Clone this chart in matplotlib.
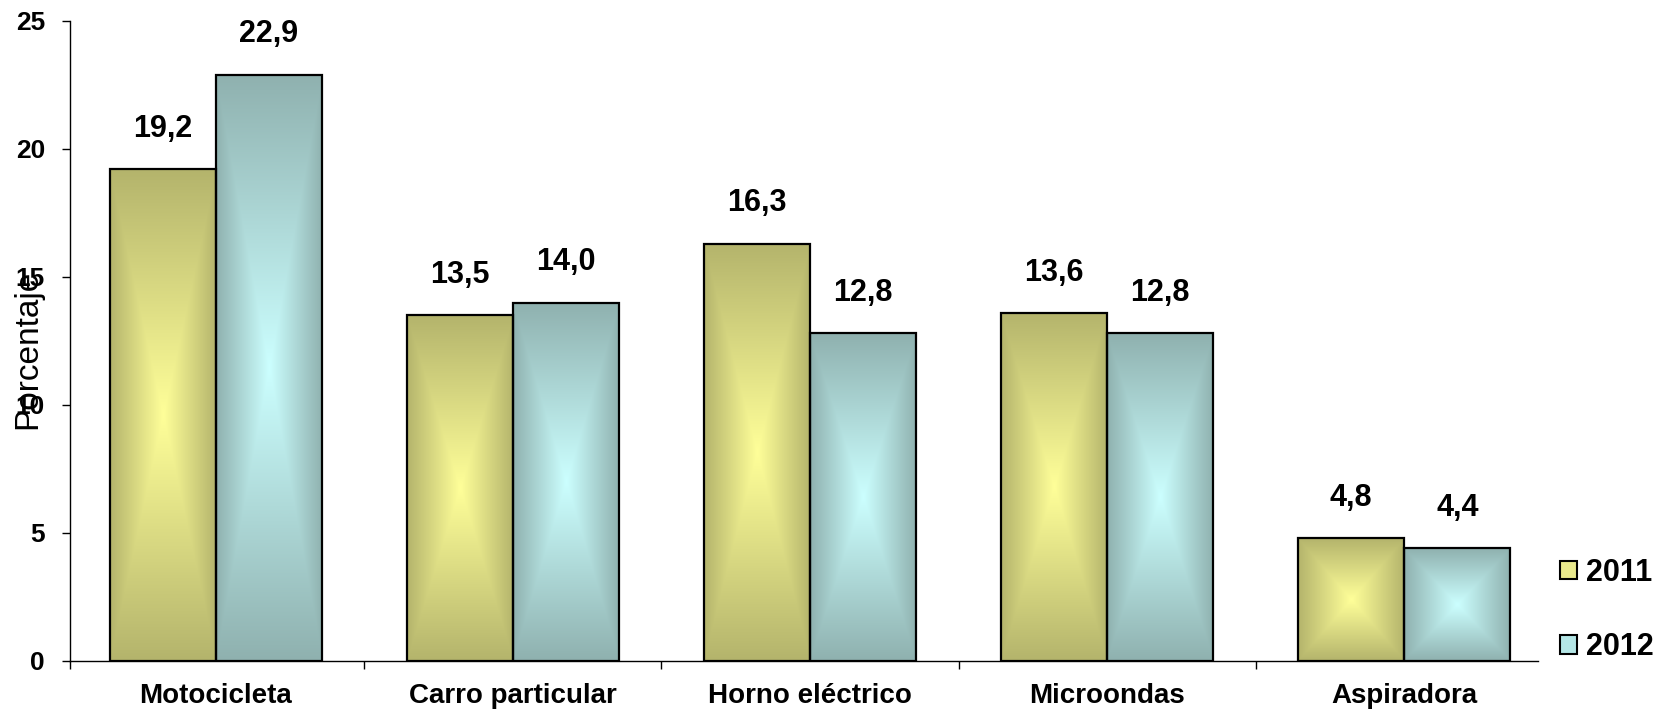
import numpy as np
import matplotlib
matplotlib.use('Agg')
import matplotlib.pyplot as plt
from matplotlib.colors import to_rgb
from matplotlib.patches import Patch

categories = ['Motocicleta', 'Carro particular', 'Horno eléctrico', 'Microondas', 'Aspiradora']
values_2011 = [19.2, 13.5, 16.3, 13.6, 4.8]
values_2012 = [22.9, 14.0, 12.8, 12.8, 4.4]
series_names = ['2011', '2012']
y_ticks = [0, 5, 10, 15, 20, 25]

# (edge colour, centre colour) of the "from centre" gradient fill
yellow = ('#B4B46C', '#FFFF99')
teal = ('#8FB1AF', '#CCFFFF')

plt.rcParams['font.family'] = ['Liberation Sans', 'DejaVu Sans']


def gradient_image(edge, centre, n=200):
    u = np.linspace(-1, 1, n)
    uu, vv = np.meshgrid(u, u)
    t = np.maximum(np.abs(uu), np.abs(vv))[..., None]
    e = np.array(to_rgb(edge))
    c = np.array(to_rgb(centre))
    return e * t + c * (1 - t)


def fill_bars(ax, bars, colors):
    img = gradient_image(*colors)
    for bar in bars:
        x0, y0 = bar.get_x(), bar.get_y()
        x1, y1 = x0 + bar.get_width(), y0 + bar.get_height()
        im = ax.imshow(img, extent=(x0, x1, y0, y1), aspect='auto',
                       interpolation='bilinear', zorder=2)
        im.set_clip_path(bar)


def label_bars(ax, bars, values):
    for bar, v in zip(bars, values):
        ax.annotate('{:.1f}'.format(v).replace('.', ','),
                    (bar.get_x() + bar.get_width() / 2, bar.get_height()),
                    xytext=(0, 29), textcoords='offset points',
                    ha='center', va='center', fontsize=22, fontweight='bold')


def main():
    fig = plt.figure(figsize=(16.63, 7.12), dpi=100)
    ax = fig.add_axes([70 / 1663, 51 / 712, 1468 / 1663, 640 / 712])

    x = np.arange(len(categories))
    width = 0.357
    bars1 = ax.bar(x - width / 2, values_2011, width, facecolor='none',
                   edgecolor='black', linewidth=1.6, zorder=3)
    bars2 = ax.bar(x + width / 2, values_2012, width, facecolor='none',
                   edgecolor='black', linewidth=1.6, zorder=3)
    fill_bars(ax, bars1, yellow)
    fill_bars(ax, bars2, teal)
    label_bars(ax, bars1, values_2011)
    label_bars(ax, bars2, values_2012)

    ax.set_xlim(-0.49, 4.45)
    ax.set_ylim(0, 25)
    ax.set_yticks(y_ticks)
    ax.set_yticklabels([str(t) for t in y_ticks], fontsize=19, fontweight='bold')
    ax.tick_params(axis='y', length=6, width=1, pad=12)

    # ticks at the category boundaries, labels at the centres
    ax.set_xticks([-0.49, 0.5, 1.5, 2.5, 3.5])
    ax.set_xticklabels([])
    ax.set_xticks(x, minor=True)
    ax.set_xticklabels(categories, minor=True, fontsize=20, fontweight='bold')
    ax.tick_params(axis='x', which='major', length=6, width=1)
    ax.tick_params(axis='x', which='minor', length=0, pad=16)

    for side in ['top', 'right']:
        ax.spines[side].set_visible(False)
    for side in ['left', 'bottom']:
        ax.spines[side].set_linewidth(1)

    ax.set_ylabel('Porcentaje', fontsize=24)
    ax.yaxis.set_label_coords(-27 / 1468, 0.487)

    handles = [Patch(facecolor='#E8E88C', edgecolor='black', linewidth=1.5),
               Patch(facecolor='#B4E6E6', edgecolor='black', linewidth=1.5)]
    ax.legend(handles, series_names, loc='center left',
              bbox_to_anchor=(1560 / 1663, (712 - 610) / 712),
              bbox_transform=fig.transFigure, frameon=False,
              prop={'size': 22, 'weight': 'bold'}, handlelength=0.55,
              handleheight=0.55, handletextpad=0.3, labelspacing=1.45,
              borderpad=0, borderaxespad=0)

    fig.savefig('out.png', dpi=100)


if __name__ == '__main__':
    main()
